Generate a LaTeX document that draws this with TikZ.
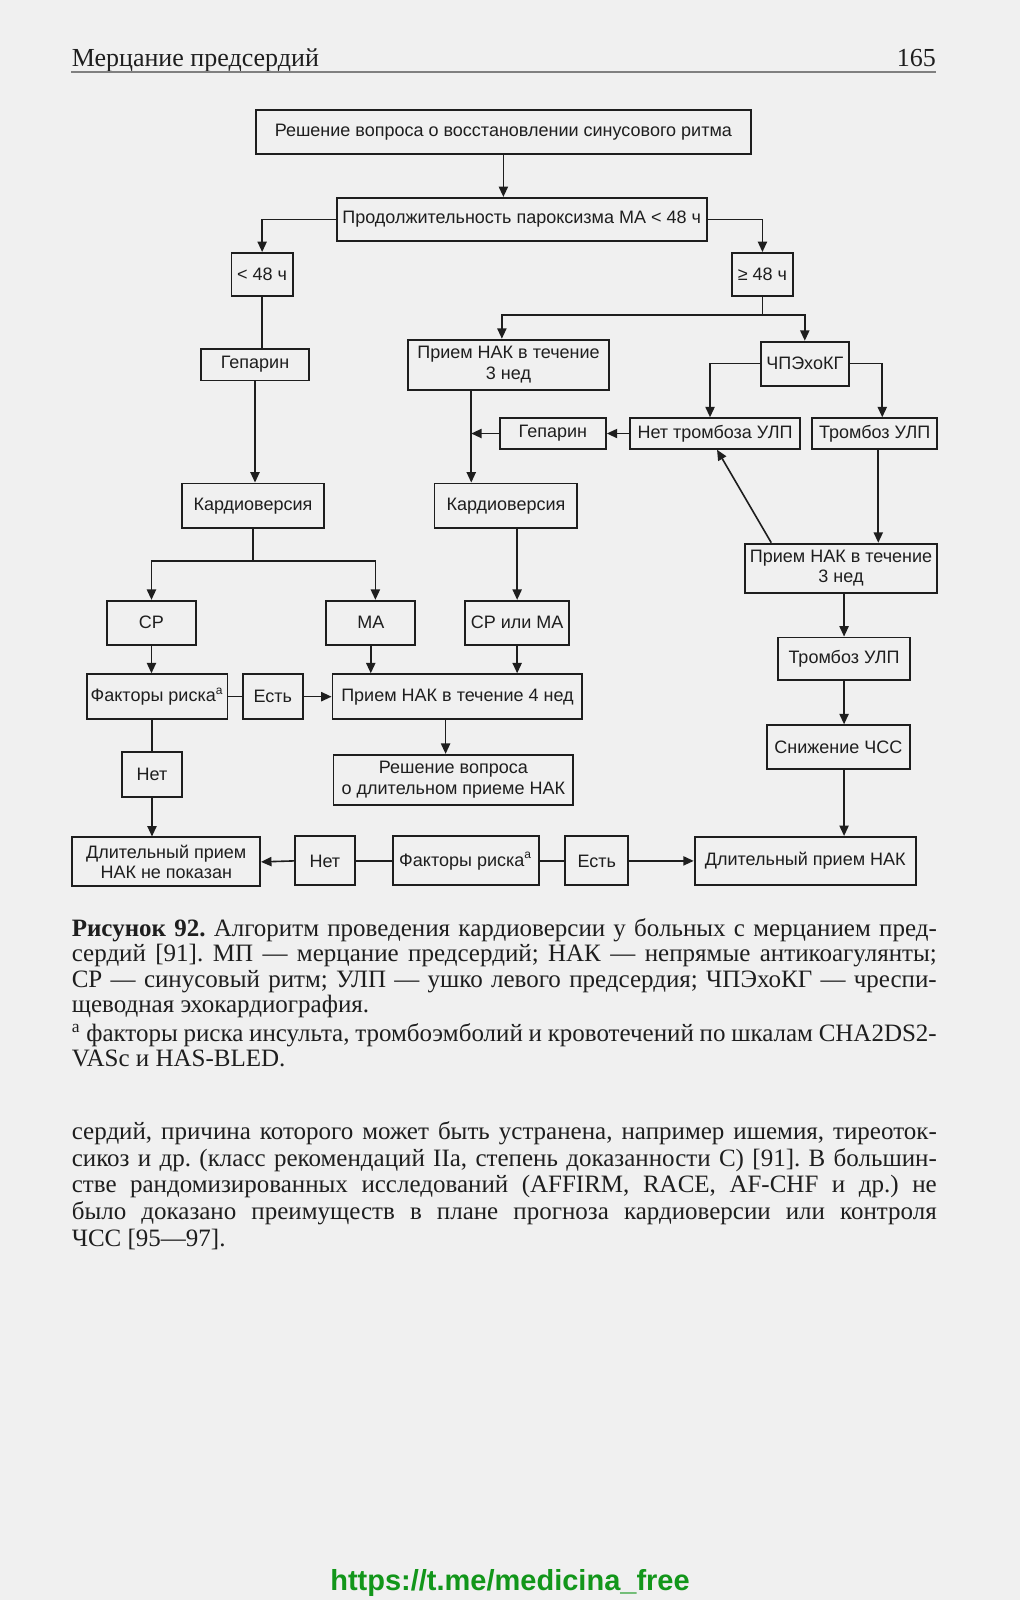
\documentclass[tikz,border=0pt]{standalone}
\usepackage{fontspec}
\setmainfont{Liberation Serif}
\newfontfamily\boxfont{Liberation Sans}
\definecolor{paper}{HTML}{F0F0F0}
\definecolor{ink}{HTML}{1E1E1E}
\definecolor{tgreen}{HTML}{12961A}
\usetikzlibrary{arrows.meta, calc}

\newlength{\capw}\setlength{\capw}{432.5pt}
\newcommand{\jline}[1]{\makebox[\capw][s]{#1}}
\frenchspacing

\begin{document}
\begin{tikzpicture}[x=0.51pt, y=-0.51pt,
  box/.style={draw=ink, line width=0.95pt, inner sep=1pt, align=center, text=ink,
    font=\boxfont\fontsize{9}{10.2}\selectfont},
  sz/.style n args={2}{minimum width=#1*0.51pt, minimum height=#2*0.51pt},
  arr/.style={draw=ink, line width=0.8pt, -{Triangle[length=5.2pt,width=4.6pt]}},
  ln/.style={draw=ink, line width=0.8pt},
  book/.style={inner sep=0pt, text=ink, align=left, font=\fontsize{12.5}{12.75}\selectfont}]

  % page
  \fill[paper] (0,0) rectangle (1000,1568.6);
  \node[anchor=base west, inner sep=0pt, text=ink, font=\fontsize{13}{15}\selectfont] (runhead) at (70,65) {Мерцание предсердий};
  \node[anchor=base east, inner sep=0pt, text=ink, font=\fontsize{13}{15}\selectfont] (pageno) at (918,65) {165};
  \draw[gray, line width=1pt] (70,71) -- (918,71);

  % upper part
  \node[box, sz={485}{43}] (top) at (493.5,129.5) {Решение вопроса о восстановлении синусового ритма};
  \node[box, sz={363}{42}] (dur) at (511.5,215) {Продолжительность пароксизма МА < 48 ч};
  \node[box, sz={60}{42}] (lt48) at (257,269) {< 48 ч};
  \node[box, sz={59}{42}] (ge48) at (747.5,269) {≥ 48 ч};
  \node[box, sz={106}{31}] (hepL) at (250,357.5) {Гепарин};
  \node[box, sz={197}{49}] (nak3) at (498.5,357.5) {Прием НАК в течение\\3 нед};
  \node[box, sz={86}{43}] (tee) at (789,356.5) {ЧПЭхоКГ};
  \node[box, sz={166}{30}] (nothr) at (701,425) {Нет тромбоза УЛП};
  \node[box, sz={123}{30}] (thr) at (857.5,425) {Тромбоз УЛП};
  \node[box, sz={104}{30}] (hepM) at (542,425) {Гепарин};
  \node[box, sz={140}{44}] (cvL) at (248,496) {Кардиоверсия};
  \node[box, sz={140}{44}] (cvM) at (496,496) {Кардиоверсия};
  \node[box, sz={189}{48}] (nak3R) at (824.5,557) {Прием НАК в течение\\3 нед};
  \node[box, sz={129}{42}] (thrR) at (827.5,646) {Тромбоз УЛП};
  \node[box, sz={140}{43}] (hr) at (822,732.5) {Снижение ЧСС};

  % lower part
  \node[box, sz={87}{43}] (sr) at (148.5,610.5) {СР};
  \node[box, sz={87}{43}] (ma) at (363.5,610.5) {МА};
  \node[box, sz={102}{43}] (srma) at (507,610.5) {СР или МА};
  \node[box, sz={138}{44}] (riskL) at (154,683) {Факторы риска\textsuperscript{a}};
  \node[box, sz={59}{44}] (yesL) at (267.5,683) {Есть};
  \node[box, sz={245}{44}] (nak4) at (448.5,683) {Прием НАК в течение 4 нед};
  \node[box, sz={235}{49}] (decide) at (444.5,764.5) {Решение вопроса\\о длительном приеме НАК};
  \node[box, sz={58}{44}] (noL) at (149,759) {Нет};
  \node[box, sz={184}{48}] (notind) at (163,845) {Длительный прием\\НАК не показан};
  \node[box, sz={59}{48}] (noB) at (318.5,844) {Нет};
  \node[box, sz={143}{48}] (riskB) at (456.5,844) {Факторы риска\textsuperscript{a}};
  \node[box, sz={62}{48}] (yesB) at (585,844) {Есть};
  \node[box, sz={217}{47}] (longnak) at (789.5,844) {Длительный прием НАК};

  \coordinate (forkR) at (747.5,309);
  \coordinate (join) at (462,425);
  \coordinate (forkL) at (248,550);

  % connectors
  \draw[arr] (top.south) -- (top.south |- dur.north);
  \draw[arr] (dur.west) -| (lt48.north);
  \draw[arr] (dur.east) -| (ge48.north);
  \draw[ln] (lt48.south) -- (lt48.south |- hepL.north);
  \draw[arr] (hepL.south) -- (hepL.south |- cvL.north);
  \draw[ln] (ge48.south) -- (forkR);
  \draw[arr] (forkR) -| ([xshift=-3.3pt]nak3.north);
  \draw[arr] (forkR) -| (tee.north);
  \draw[arr] (tee.west) -| ([xshift=-2.5pt]nothr.north);
  \draw[arr] (tee.east) -| ([xshift=3.8pt]thr.north);
  \draw[arr] (nothr.west) -- (hepM.east);
  \draw[arr] (hepM.west) -- (join);
  \draw[arr] (join |- nak3.south) -- (join |- cvM.north);
  \draw[arr] ([xshift=1.8pt]thr.south) -- ([xshift=1.8pt]thr.south |- nak3R.north);
  \draw[arr] ([xshift=13.8pt]nak3R.north west) -- ([xshift=1pt]nothr.south);
  \draw[arr] (thrR.north |- nak3R.south) -- (thrR.north);
  \draw[arr] (thrR.south) -- (thrR.south |- hr.north);
  \draw[arr] (thrR.south |- hr.south) -- (thrR.south |- longnak.north);
  \draw[ln] (cvL.south) -- (forkL);
  \draw[arr] (forkL) -| (sr.north);
  \draw[arr] (forkL) -| ([xshift=2.3pt]ma.north);
  \draw[arr] (srma.north |- cvM.south) -- (srma.north);
  \draw[arr] (sr.south) -- (sr.south |- riskL.north);
  \draw[arr] (ma.south) -- (ma.south |- nak4.north);
  \draw[arr] (srma.south) -- (srma.south |- nak4.north);
  \draw[ln] (riskL.east) -- (yesL.west);
  \draw[arr] (yesL.east) -- (nak4.west);
  \draw[arr] ([xshift=-3.9pt]decide.north |- nak4.south) -- ([xshift=-3.9pt]decide.north);
  \draw[ln] (noL.north |- riskL.south) -- (noL.north);
  \draw[arr] (noL.south) -- (noL.south |- notind.north);
  \draw[ln] (riskB.west) -- (noB.east);
  \draw[arr] (noB.west) -- (notind.east);
  \draw[ln] (riskB.east) -- (yesB.west);
  \draw[arr] (yesB.east) -- (longnak.west);

  % caption and text
  \node[book, anchor=north west] (caption) at (70,900) {%
    \jline{\textbf{Рисунок 92.} Алгоритм проведения кардиоверсии у больных с мерцанием пред-}\\
    \jline{сердий [91]. МП — мерцание предсердий; НАК — непрямые антикоагулянты;}\\
    \jline{СР — синусовый ритм; УЛП — ушко левого предсердия; ЧПЭхоКГ — чреспи-}\\
    щеводная эхокардиография.\\[1.5pt]
    \jline{\textsuperscript{a} факторы риска инсульта, тромбоэмболий и кровотечений по шкалам CHA2DS2-}\\
    VASc и HAS-BLED.};
  \node[book, anchor=north west, font=\fontsize{12.5}{13.4}\selectfont] (body) at (70,1099) {%
    \jline{сердий, причина которого может быть устранена, например ишемия, тиреоток-}\\
    \jline{сикоз и др. (класс рекомендаций IIa, степень доказанности С) [91]. В большин-}\\
    \jline{стве рандомизированных исследований (AFFIRM, RACE, AF-CHF и др.) не}\\
    \jline{было доказано преимуществ в плане прогноза кардиоверсии или контроля}\\
    ЧСС [95—97].};
  \node[inner sep=0pt, text=tgreen, font=\boxfont\bfseries\fontsize{14.5}{16}\selectfont] (link) at (500,1552) {https://t.me/medicina\_free};
\end{tikzpicture}
\end{document}
